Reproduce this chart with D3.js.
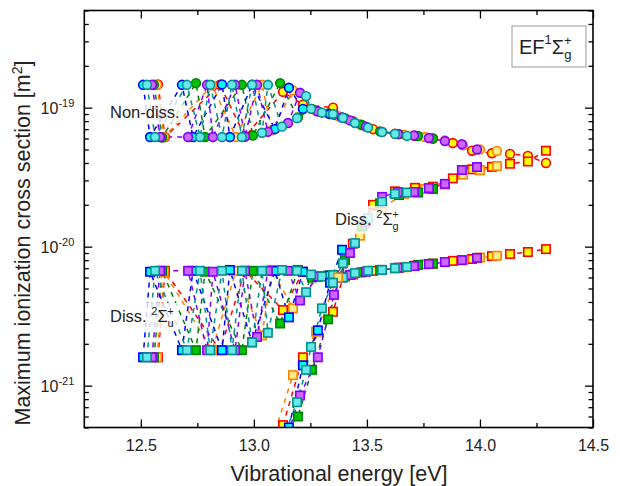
<!DOCTYPE html>
<html>
<head>
<meta charset="utf-8">
<script src="https://cdn.jsdelivr.net/npm/d3@7"></script>
<style>
  body { margin: 0; background: #fff; }
</style>
</head>
<body>
<div id="chart"></div>
<script>
// cross sections are in units of 1e-21 m^2, energies in eV
// null = level not on the plot for that channel

const eRed = [12.576, 12.607, 12.850, 12.961, 13.129, 13.217, 13.350, 13.438, 13.527, 13.624, 13.713, 13.792, 13.880, 13.965, 14.053, 14.133, 14.212, 14.292];
const ndRed = [147, 61.5, 146, 62, 130, 105, 100, 80, 70, 65, 62.8, 60, 55.7, 49, 47, 46.5, 45, 40];
const duRed = [1.6, 6.7, 1.8, 6.7, 3.5, 6.6, 6.25, 6.3, 6.7, 7.0, 7.3, 7.55, 7.9, 8.15, 8.55, 8.85, 9.15, 9.6];
const dgRed = [null, null, null, null, 0.52, 1.6, 3.4, 10.5, 20, 25, 26.5, 27, 31, 36, 37.5, 39.5, 41, 49];

const eOrange = [12.572, 12.603, 12.815, 12.921, 13.036, 13.080, 13.173, 13.275, 13.372, 13.469, 13.567, 13.664, 13.757, 13.845, 13.925, 14.000, 14.075];
const ndOrange = [146, 61.5, 145, 61.5, 146, 69, 133, 95, 87, 76, 67, 64, 61.5, 58, 53.5, 50, 48.8];
const duOrange = [1.6, 6.6, 1.8, 6.7, 2.3, 6.8, 3.6, 6.1, 6.1, 6.5, 6.8, 7.1, 7.45, 7.75, 8.0, 8.35, 8.6];
const dgOrange = [null, null, null, null, null, 0.4, 1.19, 2.44, 6.0, 12, 19, 24, 26, 28, 33, 35.5, 38];

const eGreen = [12.558, 12.594, 12.744, 12.784, 12.947, 12.996, 13.116, 13.195, 13.257, 13.328, 13.403, 13.478, 13.558, 13.642, 13.726, 13.792];
const ndGreen = [146, 61, 150, 61.5, 146, 63, 150, 85, 98, 91, 84, 75, 67.5, 64.5, 62.5, 60];
const duGreen = [1.6, 6.7, 1.8, 6.6, 1.8, 6.7, 2.8, 6.8, 6.0, 6.2, 6.1, 6.55, 6.8, 7.05, 7.4, 7.55];
const dgGreen = [null, null, null, null, null, null, 0.42, 0.6, 1.3, 3.0, 8.0, 14, 20.5, 23.5, 24.5, 26];

const eBlue = [12.510, 12.541, 12.682, 12.731, 12.859, 12.894, 12.992, 13.093, 13.155, 13.217, 13.283, 13.337, 13.390];
const ndBlue = [146, 61.5, 146, 61.5, 147, 61.5, 146, 70, 139, 98, 94, 90, 85];
const duBlue = [1.6, 6.6, 1.8, 6.7, 1.8, 6.8, 2.05, 6.7, 3.1, 6.6, 6.1, 6.2, 6.0];
const dgBlue = [null, null, null, null, null, null, null, null, 0.5, 1.4, 2.5, 5.5, 9.5];

const ePurple = [12.549, 12.585, 12.709, 12.793, 12.819, 12.917, 12.961, 13.014, 13.062, 13.151, 13.204, 13.283, 13.354, 13.425, 13.496, 13.567, 13.637, 13.708, 13.774, 13.845, 13.920, 13.987];
const ndPurple = [146, 61.5, 61.5, 146, 61.5, 146, 62, 146, 67, 77.5, 128, 94, 89, 81, 73, 67, 64.5, 63, 60.5, 57.5, 54.5, 50];
const duPurple = [1.6, 6.7, 6.7, 1.8, 6.6, 1.8, 6.7, 2.24, 6.7, 6.7, 4.1, 6.1, 6.2, 6.25, 6.6, 6.8, 7.05, 7.25, 7.5, 7.75, 8.0, 8.3];
const dgPurple = [null, null, null, null, null, null, null, null, null, 0.45, 0.85, 1.6, 4.5, 9.0, 15, 22.8, 24.7, 24.7, 26.4, 28.3, 35.6, 37.4];

const eTeal = [12.527, 12.563, 12.704, 12.762, 12.807, 12.859, 12.903, 12.947, 12.992, 13.036, 13.062, 13.124, 13.191, 13.231, 13.253, 13.301, 13.350, 13.394, 13.447, 13.505, 13.567, 13.624, 13.677];
const ndTeal = [146, 61.5, 146, 61.5, 146, 61.5, 146, 61.5, 146, 66, 146, 73, 84, 121, 98, 92, 90, 84.5, 77.5, 72, 66.7, 64.7, 62.6];
const duTeal = [1.6, 6.7, 1.8, 6.7, 1.8, 6.7, 1.8, 6.7, 2.05, 6.7, 2.4, 6.8, 6.7, 4.7, 6.3, 6.1, 6.25, 6.0, 6.45, 6.7, 6.8, 7.0, 7.15];
const dgTeal = [null, null, null, null, null, null, null, null, null, null, null, 0.4, 0.76, 1.3, 1.9, 3.6, 5.5, 7.6, 10.6, 16, 21, 24, 24.5];

const xMajor = [12.5, 13.0, 13.5, 14.0, 14.5];
const xMinor = [12.75, 13.25, 13.75, 14.25];
const yMajor = [1, 10, 100];            // 1e-21, 1e-20, 1e-19 m^2
const yExp = ['-21', '-20', '-19'];

// one entry per colour: stroke, fill
const series = [
  { e: eRed, nd: ndRed, du: duRed, dg: dgRed, stroke: '#ff0000', fill: '#ffff00' },
  { e: eOrange, nd: ndOrange, du: duOrange, dg: dgOrange, stroke: '#ff8000', fill: '#ffee88' },
  { e: eGreen, nd: ndGreen, du: duGreen, dg: dgGreen, stroke: '#008000', fill: '#00c400' },
  { e: eBlue, nd: ndBlue, du: duBlue, dg: dgBlue, stroke: '#0000ff', fill: '#00ffff' },
  { e: ePurple, nd: ndPurple, du: duPurple, dg: dgPurple, stroke: '#8000ff', fill: '#cc66ff' },
  { e: eTeal, nd: ndTeal, du: duTeal, dg: dgTeal, stroke: '#00908f', fill: '#66e8e8' },
];

const width = 620, height = 486;
const pLeft = 84.3, pRight = 593, pTop = 10.5, pBottom = 427.5;

const x = d3.scaleLinear().domain([12.25, 14.5]).range([pLeft, pRight]);
const y = d3.scaleLog().domain([0.5, 500]).range([pBottom, pTop]);

const svg = d3.select('#chart')
  .append('svg')
  .attr('width', width)
  .attr('height', height)
  .style('font-family', '"Liberation Sans", Arial, sans-serif');

svg.append('defs').append('clipPath').attr('id', 'plot-clip')
  .append('rect')
  .attr('x', pLeft).attr('y', pTop)
  .attr('width', pRight - pLeft).attr('height', pBottom - pTop);

const plot = svg.append('g').attr('clip-path', 'url(#plot-clip)');

const line = d3.line()
  .defined((d) => d[1] != null)
  .x((d) => x(d[0]))
  .y((d) => y(d[1]));

const pts = (s, key) => s.e.map((e, i) => [e, s[key][i]]);

// dashed connecting lines first
const lineLayer = plot.append('g').attr('fill', 'none').attr('stroke-width', 1.5).attr('stroke-dasharray', '5,5');
series.forEach((s) => {
  ['nd', 'du', 'dg'].forEach((key) => {
    lineLayer.append('path')
      .attr('d', line(pts(s, key)))
      .attr('stroke', s.stroke);
  });
});

// markers: circles for non-dissociative, squares for the two dissociative channels
const markLayer = plot.append('g').attr('stroke-width', 1.6);
const half = 4.2;
['nd', 'du', 'dg'].forEach((key) => {
  series.forEach((s) => {
    const data = pts(s, key).filter((d) => d[1] != null);
    if (key === 'nd') {
      markLayer.append('g').selectAll('circle')
        .data(data)
        .join('circle')
        .attr('cx', (d) => x(d[0]))
        .attr('cy', (d) => y(d[1]))
        .attr('r', 4.4)
        .attr('fill', s.fill)
        .attr('stroke', s.stroke);
    } else {
      markLayer.append('g').selectAll('rect')
        .data(data)
        .join('rect')
        .attr('x', (d) => x(d[0]) - half)
        .attr('y', (d) => y(d[1]) - half)
        .attr('width', half * 2)
        .attr('height', half * 2)
        .attr('fill', s.fill)
        .attr('stroke', s.stroke);
    }
  });
});

// axes, ticks pointing inward
const styleAxis = (g) => {
  g.select('.domain').remove();
  g.selectAll('.tick line').attr('stroke', '#000').attr('stroke-width', 1.3);
};

svg.append('g')
  .attr('transform', `translate(0,${pBottom})`)
  .call(d3.axisBottom(x).tickValues(xMajor).tickFormat(d3.format('.1f')).tickSize(-8).tickPadding(12))
  .call(styleAxis)
  .call((g) => g.selectAll('.tick text').attr('font-size', 16).attr('fill', '#222'))
  .attr('font-family', null).attr('font-size', null);
svg.append('g')
  .attr('transform', `translate(0,${pBottom})`)
  .call(d3.axisBottom(x).tickValues(xMinor).tickFormat('').tickSize(-4.5))
  .call(styleAxis);
svg.append('g')
  .attr('transform', `translate(0,${pTop})`)
  .call(d3.axisTop(x).tickValues(xMajor).tickFormat('').tickSize(-8))
  .call(styleAxis);
svg.append('g')
  .attr('transform', `translate(0,${pTop})`)
  .call(d3.axisTop(x).tickValues(xMinor).tickFormat('').tickSize(-4.5))
  .call(styleAxis);

const yMinor = y.ticks().filter((d) => !yMajor.some((m) => Math.abs(d - m) < 1e-9));

svg.append('g')
  .attr('transform', `translate(${pLeft},0)`)
  .call(d3.axisLeft(y).tickValues(yMajor).tickFormat('').tickSize(-8))
  .call(styleAxis);
svg.append('g')
  .attr('transform', `translate(${pLeft},0)`)
  .call(d3.axisLeft(y).tickValues(yMinor).tickFormat('').tickSize(-4.5))
  .call(styleAxis);
svg.append('g')
  .attr('transform', `translate(${pRight},0)`)
  .call(d3.axisRight(y).tickValues(yMajor).tickFormat('').tickSize(-8))
  .call(styleAxis);
svg.append('g')
  .attr('transform', `translate(${pRight},0)`)
  .call(d3.axisRight(y).tickValues(yMinor).tickFormat('').tickSize(-4.5))
  .call(styleAxis);

// y tick labels as 10^n
yMajor.forEach((v, i) => {
  const t = svg.append('text')
    .attr('x', pLeft - 10)
    .attr('y', y(v) + 6)
    .attr('text-anchor', 'end')
    .attr('font-size', 16)
    .attr('fill', '#222');
  t.append('tspan').text('10');
  t.append('tspan').attr('font-size', 11).attr('dy', -7).text(yExp[i]);
});

// frame
svg.append('rect')
  .attr('x', pLeft).attr('y', pTop)
  .attr('width', pRight - pLeft).attr('height', pBottom - pTop)
  .attr('fill', 'none')
  .attr('stroke', '#000')
  .attr('stroke-width', 1.6);

// axis titles
svg.append('text')
  .attr('x', 339)
  .attr('y', 481)
  .attr('text-anchor', 'middle')
  .attr('font-size', 21.5)
  .attr('fill', '#222')
  .text('Vibrational energy [eV]');

const yTitle = svg.append('text')
  .attr('transform', 'translate(30,243) rotate(-90)')
  .attr('text-anchor', 'middle')
  .attr('font-size', 21.5)
  .attr('fill', '#222');
yTitle.append('tspan').text('Maximum ionization cross section [m');
yTitle.append('tspan').attr('font-size', 14).attr('dy', -8).text('2');
yTitle.append('tspan').attr('dy', 8).text(']');

// in-plot labels with a light white backing
const addLabel = (px, py, main, sup, sub, sup2) => {
  const g = svg.append('g');
  const t = g.append('text')
    .attr('x', px).attr('y', py)
    .attr('font-size', 16.5)
    .attr('fill', '#222');
  t.append('tspan').text(main);
  if (sup) {
    t.append('tspan').attr('font-size', 11).attr('dy', -7).text(sup);
    t.append('tspan').attr('dy', 7).text('\u03A3');
    t.append('tspan').attr('font-size', 11).attr('dy', 5).text(sub);
    t.append('tspan').attr('font-size', 11).attr('dx', -6.5).attr('dy', -12).text(sup2);
  }
  const b = t.node().getBBox();
  g.insert('rect', 'text')
    .attr('x', b.x - 4).attr('y', b.y - 2)
    .attr('width', b.width + 8).attr('height', b.height + 4)
    .attr('fill', '#fff').attr('fill-opacity', 0.8);
};

addLabel(110, 118, 'Non-diss.');
addLabel(110, 322, 'Diss. ', '2', 'u', '+');
addLabel(335, 225, 'Diss. ', '2', 'g', '+');

// state box
svg.append('rect')
  .attr('x', 512).attr('y', 26)
  .attr('width', 74).attr('height', 41)
  .attr('fill', '#fff')
  .attr('stroke', '#999')
  .attr('stroke-width', 1);
const st = svg.append('text')
  .attr('x', 519).attr('y', 54)
  .attr('font-size', 20)
  .attr('fill', '#222');
st.append('tspan').text('EF');
st.append('tspan').attr('font-size', 13).attr('dy', -10).text('1');
st.append('tspan').attr('dy', 10).text('\u03A3');
st.append('tspan').attr('font-size', 13).attr('dy', 5).text('g');
st.append('tspan').attr('font-size', 13).attr('dx', -7.5).attr('dy', -14).text('+');
</script>
</body>
</html>
